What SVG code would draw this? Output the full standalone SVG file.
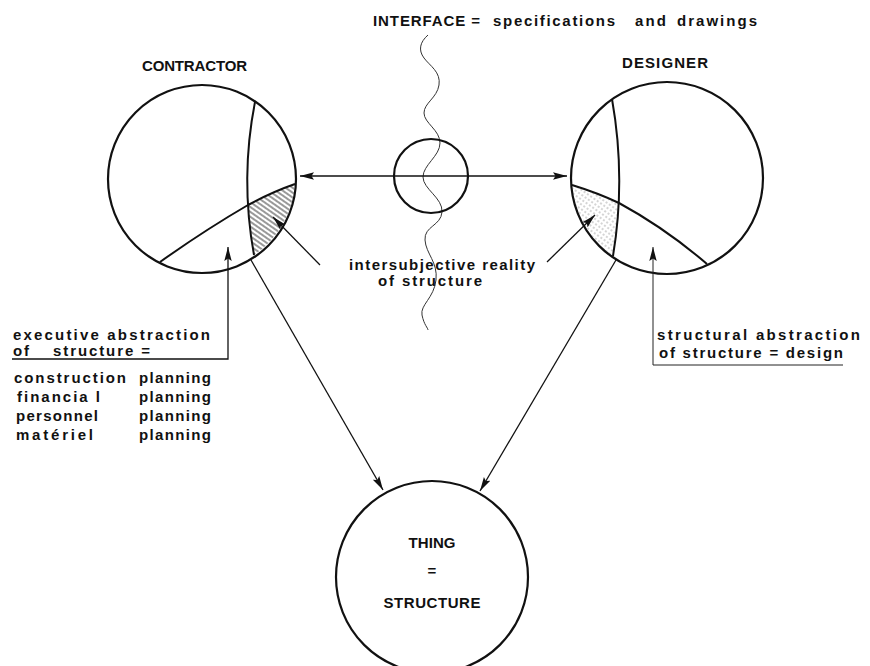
<svg xmlns="http://www.w3.org/2000/svg" width="870" height="666" viewBox="0 0 870 666">
<defs>
  <style>
    .circ{fill:none;stroke:#111;stroke-width:2.2}
    .div{fill:none;stroke:#111;stroke-width:2}
    .con{fill:none;stroke:#111;stroke-width:1.3}
    .thin{fill:none;stroke:#222;stroke-width:1}
    .wave{fill:none;stroke:#333;stroke-width:1}
    text{font-family:"Liberation Sans","DejaVu Sans",Arial,sans-serif;font-weight:bold;font-size:15px;fill:#111}
  </style>
  <marker id="ah" markerUnits="userSpaceOnUse" markerWidth="16" markerHeight="10" refX="14" refY="5" orient="auto-start-reverse">
    <path d="M0,1.3 L14,5 L0,8.7 L2.5,5 Z" fill="#111"/>
  </marker>
  <pattern id="hatch" patternUnits="userSpaceOnUse" width="4" height="4" patternTransform="rotate(35)">
    <line x1="0" y1="2" x2="4" y2="2" stroke="#444" stroke-width="1.1"/>
  </pattern>
  <pattern id="stip" patternUnits="userSpaceOnUse" width="4" height="4" patternTransform="rotate(35)">
    <line x1="0" y1="2" x2="2" y2="2" stroke="#aaa" stroke-width="1"/>
  </pattern>
</defs>
<rect width="870" height="666" fill="#fff"/>

<g id="interface-title">
  <text x="373" y="26" textLength="107">INTERFACE =</text>
  <text x="493" y="26" textLength="122">specifications</text>
  <text x="635" y="26" textLength="31">and</text>
  <text x="677" y="26" textLength="80">drawings</text>
</g>

<path id="interface-wave" class="wave" d="M428,35 C420,42 418,50 424,58 S441,72 439,85 S424,103 424,113 S440,130 440,143 S423,165 423,177 S443,198 442,212 S424,226 425,240 S438,262 436,280 S420,305 422,315 S428,328 428,330"/>

<g id="contractor">
  <text x="142" y="71" textLength="105">CONTRACTOR</text>
  <path d="M248,205 Q272,192 295,184 A94,94 0 0 1 254,255 Q250,230 248,205 Z" fill="url(#hatch)"/>
  <circle class="circ" cx="202" cy="179" r="94"/>
  <path class="div" d="M255,102 Q240,178 254,255"/>
  <path class="div" d="M160,262 Q205,230 248,205 Q272,192 295,184"/>
</g>

<g id="designer">
  <text x="622" y="68" textLength="86">DESIGNER</text>
  <path d="M572,185 Q598,193 619,203 Q618,230 613,256 A96,96 0 0 1 572,185 Z" fill="url(#stip)"/>
  <circle class="circ" cx="667" cy="178" r="96"/>
  <path class="div" d="M612,99 Q626,178 613,256"/>
  <path class="div" d="M572,185 Q598,193 619,203 Q665,228 707,264"/>
</g>

<g id="interface">
  <circle class="circ" cx="431" cy="176" r="37"/>
</g>

<g id="thing">
  <circle class="circ" cx="432" cy="577" r="96"/>
  <text x="432" y="548" text-anchor="middle" textLength="47">THING</text>
  <text x="432" y="576" text-anchor="middle" font-size="12">=</text>
  <text x="432" y="608" text-anchor="middle" textLength="97">STRUCTURE</text>
</g>

<g id="intersubjective-label">
  <text x="349" y="270" textLength="186">intersubjective reality</text>
  <text x="378" y="286" textLength="104">of structure</text>
</g>

<g id="executive-label">
  <text x="13" y="340" textLength="197">executive abstraction</text>
  <text x="13" y="356" textLength="16">of</text>
  <text x="53" y="356" textLength="97">structure =</text>
  <text x="14" y="383" textLength="112">construction</text>
  <text x="139" y="383" textLength="72">planning</text>
  <text x="17" y="402" textLength="83">financia l</text>
  <text x="139" y="402" textLength="72">planning</text>
  <text x="16" y="421" textLength="82">personnel</text>
  <text x="139" y="421" textLength="72">planning</text>
  <text x="16" y="440" textLength="77">matériel</text>
  <text x="139" y="440" textLength="72">planning</text>
</g>

<g id="structural-label">
  <text x="657" y="340" textLength="203">structural abstraction</text>
  <text x="659" y="358" textLength="184">of structure = design</text>
</g>

<g id="connectors">
  <line class="con" x1="300" y1="176" x2="567" y2="176" marker-start="url(#ah)" marker-end="url(#ah)"/>
  <line class="con" x1="251" y1="260" x2="383" y2="490" marker-end="url(#ah)"/>
  <line class="con" x1="616" y1="260" x2="480" y2="491" marker-end="url(#ah)"/>
  <line class="con" x1="320" y1="265" x2="273" y2="217" marker-end="url(#ah)"/>
  <line class="con" x1="547" y1="262" x2="595" y2="215" marker-end="url(#ah)"/>
  <path class="con" d="M12,359 H228 V247" marker-end="url(#ah)"/>
  <path class="thin" d="M843,365 H653 V247" marker-end="url(#ah)"/>
</g>
</svg>
